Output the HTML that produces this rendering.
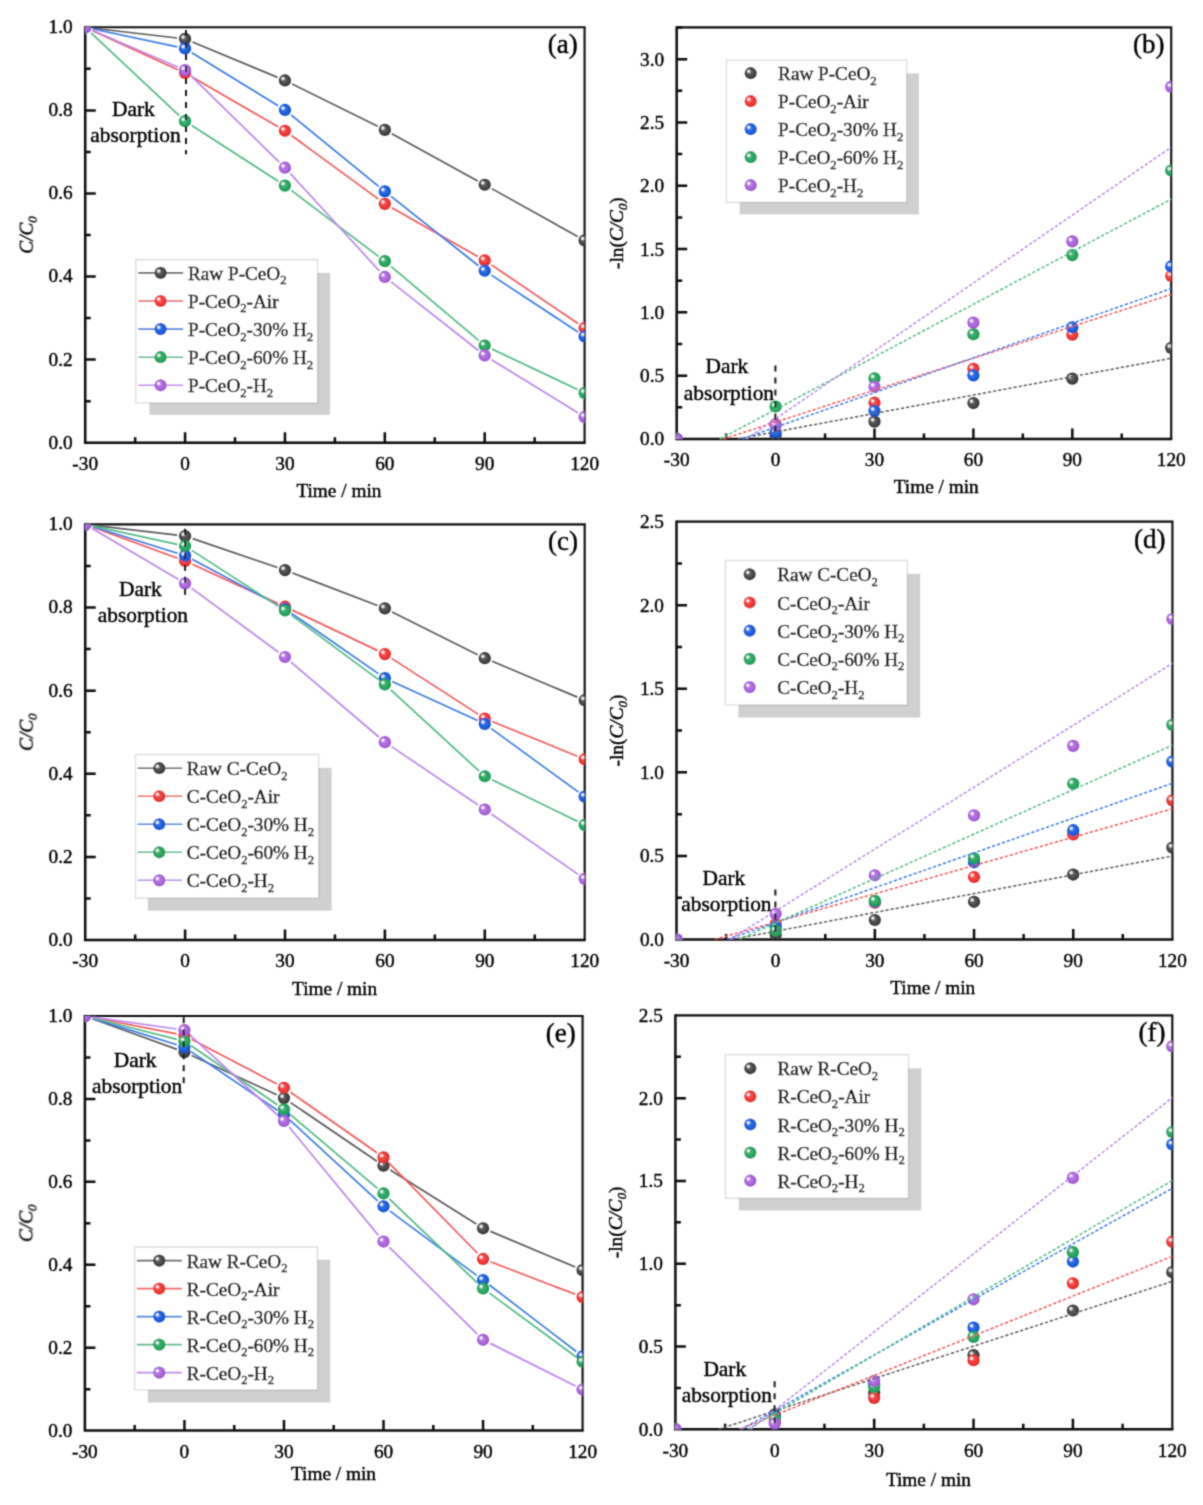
<!DOCTYPE html>
<html><head><meta charset="utf-8"><title>Figure</title>
<style>
html,body{margin:0;padding:0;background:#fff;}
svg{display:block;}

text{font-family:"Liberation Serif", serif;fill:#000;stroke:#000;stroke-width:0.4px;}
</style></head>
<body>
<svg width="1203" height="1505" viewBox="0 0 1203 1505">
<defs><radialGradient id="grk" cx="0.5" cy="0.5" r="0.5" fx="0.33" fy="0.36"><stop offset="0" stop-color="#9c9c9c"/><stop offset="0.3" stop-color="#616161"/><stop offset="0.62" stop-color="#4b4b4b"/><stop offset="1" stop-color="#333333"/></radialGradient><g id="mk"><circle r="6.1" fill="url(#grk)"/><circle cx="-2.0" cy="-1.9" r="2.4" fill="url(#hl)"/></g><radialGradient id="grr" cx="0.5" cy="0.5" r="0.5" fx="0.33" fy="0.36"><stop offset="0" stop-color="#f99393"/><stop offset="0.3" stop-color="#f55252"/><stop offset="0.62" stop-color="#f43a3a"/><stop offset="1" stop-color="#d92a2a"/></radialGradient><g id="mr"><circle r="6.1" fill="url(#grr)"/><circle cx="-2.0" cy="-1.9" r="2.4" fill="url(#hl)"/></g><radialGradient id="grb" cx="0.5" cy="0.5" r="0.5" fx="0.33" fy="0.36"><stop offset="0" stop-color="#83a8ef"/><stop offset="0.3" stop-color="#3874e5"/><stop offset="0.62" stop-color="#1d61e2"/><stop offset="1" stop-color="#1450c8"/></radialGradient><g id="mb"><circle r="6.1" fill="url(#grb)"/><circle cx="-2.0" cy="-1.9" r="2.4" fill="url(#hl)"/></g><radialGradient id="grg" cx="0.5" cy="0.5" r="0.5" fx="0.33" fy="0.36"><stop offset="0" stop-color="#8acfa9"/><stop offset="0.3" stop-color="#44b275"/><stop offset="0.62" stop-color="#2aa862"/><stop offset="1" stop-color="#1f9654"/></radialGradient><g id="mg"><circle r="6.1" fill="url(#grg)"/><circle cx="-2.0" cy="-1.9" r="2.4" fill="url(#hl)"/></g><radialGradient id="grp" cx="0.5" cy="0.5" r="0.5" fx="0.33" fy="0.36"><stop offset="0" stop-color="#d2aced"/><stop offset="0.3" stop-color="#b77ae2"/><stop offset="0.62" stop-color="#ad68de"/><stop offset="1" stop-color="#9a55cc"/></radialGradient><g id="mp"><circle r="6.1" fill="url(#grp)"/><circle cx="-2.0" cy="-1.9" r="2.4" fill="url(#hl)"/></g><radialGradient id="hl"><stop offset="0" stop-color="#fff" stop-opacity="0.97"/><stop offset="0.4" stop-color="#fff" stop-opacity="0.8"/><stop offset="1" stop-color="#fff" stop-opacity="0"/></radialGradient></defs>
<filter id="soft" x="0" y="0" width="1203" height="1505" filterUnits="userSpaceOnUse"><feConvolveMatrix order="3" kernelMatrix="0.03240 0.11520 0.03240 0.11520 0.40960 0.11520 0.03240 0.11520 0.03240" edgeMode="none"/></filter>
<rect width="1203" height="1505" fill="#fff"/>
<g filter="url(#soft)">
<g id="panel_a">
<clipPath id="clip_a"><rect x="85.2" y="27.3" width="499.4" height="415.4"/></clipPath>
<rect x="149.3" y="272.9" width="180.8" height="141.9" fill="#d0d0d0"/>
<rect x="135.8" y="259.6" width="181.8" height="143.4" fill="#fff" stroke="#000" stroke-opacity="0.13" stroke-width="1.6"/>
<line x1="138.3" y1="272.9" x2="183.1" y2="272.9" stroke="#5c5c5c" stroke-width="1.6"/>
<use href="#mk" x="160.6" y="272.9"/>
<text x="188" y="279.9" font-size="19.2">Raw P-CeO<tspan font-size="12.67" dy="4.4">2</tspan></text>
<line x1="138.3" y1="301" x2="183.1" y2="301" stroke="#f25a5a" stroke-width="1.6"/>
<use href="#mr" x="160.6" y="301"/>
<text x="188" y="308" font-size="19.2">P-CeO<tspan font-size="12.67" dy="4.4">2</tspan><tspan dy="-4.4">-Air</tspan></text>
<line x1="138.3" y1="329.1" x2="183.1" y2="329.1" stroke="#3d7be6" stroke-width="1.6"/>
<use href="#mb" x="160.6" y="329.1"/>
<text x="188" y="336.1" font-size="19.2">P-CeO<tspan font-size="12.67" dy="4.4">2</tspan><tspan dy="-4.4">-30% H<tspan font-size="12.67" dy="4.4">2</tspan></tspan></text>
<line x1="138.3" y1="357.2" x2="183.1" y2="357.2" stroke="#52b985" stroke-width="1.6"/>
<use href="#mg" x="160.6" y="357.2"/>
<text x="188" y="364.2" font-size="19.2">P-CeO<tspan font-size="12.67" dy="4.4">2</tspan><tspan dy="-4.4">-60% H<tspan font-size="12.67" dy="4.4">2</tspan></tspan></text>
<line x1="138.3" y1="385.3" x2="183.1" y2="385.3" stroke="#bb88ea" stroke-width="1.6"/>
<use href="#mp" x="160.6" y="385.3"/>
<text x="188" y="392.3" font-size="19.2">P-CeO<tspan font-size="12.67" dy="4.4">2</tspan><tspan dy="-4.4">-H<tspan font-size="12.67" dy="4.4">2</tspan></tspan></text>
<path d="M85.2 27.3H584.6V442.7" fill="none" stroke="#0c0c0c" stroke-width="2.1"/>
<path d="M85.2 26.25V442.7H585.65" fill="none" stroke="#0c0c0c" stroke-width="2.5" stroke-linecap="butt"/>
<path d="M135.14 442.7V437.2M185.08 442.7V432.2M235.02 442.7V437.2M284.96 442.7V432.2M334.9 442.7V437.2M384.84 442.7V432.2M434.78 442.7V437.2M484.72 442.7V432.2M534.66 442.7V437.2M85.2 401.16H90.7M85.2 359.62H95.7M85.2 318.08H90.7M85.2 276.54H95.7M85.2 235H90.7M85.2 193.46H95.7M85.2 151.92H90.7M85.2 110.38H95.7M85.2 68.84H90.7" stroke="#0c0c0c" stroke-width="2.5" fill="none"/>
<g clip-path="url(#clip_a)">
<path d="M93.15 28.23L177.13 38.01M192.47 42L277.57 77.4M292.13 84.02L377.67 126.36M391.85 133.75L477.71 180.89M491.71 188.63L577.61 236.51" stroke="#5c5c5c" stroke-width="1.7" fill="none"/>
<use href="#mk" x="85.2" y="27.3"/>
<use href="#mk" x="185.08" y="38.93"/>
<use href="#mk" x="284.96" y="80.47"/>
<use href="#mk" x="384.84" y="129.9"/>
<use href="#mk" x="484.72" y="184.74"/>
<use href="#mk" x="584.6" y="240.4"/>
<path d="M92.47 30.63L177.81 69.67M192.01 77L278.03 126.73M291.42 135.46L378.38 199.12M391.8 207.78L477.76 256.4M491.34 264.83L577.98 323.56" stroke="#f25a5a" stroke-width="1.7" fill="none"/>
<use href="#mr" x="85.2" y="27.3"/>
<use href="#mr" x="185.08" y="72.99"/>
<use href="#mr" x="284.96" y="130.73"/>
<use href="#mr" x="384.84" y="203.85"/>
<use href="#mr" x="484.72" y="260.34"/>
<use href="#mr" x="584.6" y="328.05"/>
<path d="M93.03 28.96L177.25 46.83M191.89 52.68L278.15 105.77M291.16 115.02L378.64 186.33M391.1 196.36L478.46 265.75M491.41 275.12L577.91 331.96" stroke="#3d7be6" stroke-width="1.7" fill="none"/>
<use href="#mb" x="85.2" y="27.3"/>
<use href="#mb" x="185.08" y="48.49"/>
<use href="#mb" x="284.96" y="109.96"/>
<use href="#mb" x="384.84" y="191.38"/>
<use href="#mb" x="484.72" y="270.72"/>
<use href="#mb" x="584.6" y="336.36"/>
<path d="M91.03 32.78L179.25 115.7M191.8 125.51L278.24 181.23M291.34 190.4L378.46 256.34M390.95 266.33L478.61 340.34M491.95 348.92L577.37 389.42" stroke="#52b985" stroke-width="1.7" fill="none"/>
<use href="#mg" x="85.2" y="27.3"/>
<use href="#mg" x="185.08" y="121.18"/>
<use href="#mg" x="284.96" y="185.57"/>
<use href="#mg" x="384.84" y="261.17"/>
<use href="#mg" x="484.72" y="345.5"/>
<use href="#mg" x="584.6" y="392.85"/>
<path d="M92.55 30.45L177.73 66.94M190.8 75.68L279.24 162.11M290.36 173.61L379.44 271.05M391.13 281.9L478.43 350.52M491.53 359.66L577.79 412.75" stroke="#bb88ea" stroke-width="1.7" fill="none"/>
<use href="#mp" x="85.2" y="27.3"/>
<use href="#mp" x="185.08" y="70.09"/>
<use href="#mp" x="284.96" y="167.71"/>
<use href="#mp" x="384.84" y="276.96"/>
<use href="#mp" x="484.72" y="355.47"/>
<use href="#mp" x="584.6" y="416.95"/>
</g>
<line x1="186" y1="27.5" x2="186" y2="154.2" stroke="#1a1a1a" stroke-width="2" stroke-dasharray="6 6" stroke-dashoffset="-2.4"/>
<text x="133.4" y="115.5" font-size="21.4" text-anchor="middle">Dark</text>
<text x="135.5" y="142.1" font-size="21.4" text-anchor="middle">absorption</text>
<text x="85.2" y="470.1" font-size="19.3" text-anchor="middle">-30</text>
<text x="185.08" y="470.1" font-size="19.3" text-anchor="middle">0</text>
<text x="284.96" y="470.1" font-size="19.3" text-anchor="middle">30</text>
<text x="384.84" y="470.1" font-size="19.3" text-anchor="middle">60</text>
<text x="484.72" y="470.1" font-size="19.3" text-anchor="middle">90</text>
<text x="584.6" y="470.1" font-size="19.3" text-anchor="middle">120</text>
<text x="72.7" y="448.6" font-size="19.3" text-anchor="end">0.0</text>
<text x="72.7" y="365.52" font-size="19.3" text-anchor="end">0.2</text>
<text x="72.7" y="282.44" font-size="19.3" text-anchor="end">0.4</text>
<text x="72.7" y="199.36" font-size="19.3" text-anchor="end">0.6</text>
<text x="72.7" y="116.28" font-size="19.3" text-anchor="end">0.8</text>
<text x="72.7" y="33.2" font-size="19.3" text-anchor="end">1.0</text>
<text x="338.9" y="497.4" font-size="19.3" text-anchor="middle">Time / min</text>
<text transform="translate(32.7 235) rotate(-90)" font-size="19.3" text-anchor="middle" font-style="italic">C/C<tspan font-size="12.74" dy="4.25">0</tspan></text>
<text x="577.8" y="53.2" font-size="27" text-anchor="end">(a)</text>
</g>
<g id="panel_b">
<clipPath id="clip_b"><rect x="676.7" y="27.4" width="494.5" height="411.55"/></clipPath>
<rect x="739.7" y="73.4" width="179.2" height="141" fill="#d0d0d0"/>
<rect x="726.3" y="60.1" width="180.4" height="142.3" fill="#fff" stroke="#000" stroke-opacity="0.13" stroke-width="1.6"/>
<use href="#mk" x="750.7" y="73.2"/>
<text x="778.1" y="80.2" font-size="19.2">Raw P-CeO<tspan font-size="12.67" dy="4.4">2</tspan></text>
<use href="#mr" x="750.7" y="101.2"/>
<text x="778.1" y="108.2" font-size="19.2">P-CeO<tspan font-size="12.67" dy="4.4">2</tspan><tspan dy="-4.4">-Air</tspan></text>
<use href="#mb" x="750.7" y="129.2"/>
<text x="778.1" y="136.2" font-size="19.2">P-CeO<tspan font-size="12.67" dy="4.4">2</tspan><tspan dy="-4.4">-30% H<tspan font-size="12.67" dy="4.4">2</tspan></tspan></text>
<use href="#mg" x="750.7" y="157.2"/>
<text x="778.1" y="164.2" font-size="19.2">P-CeO<tspan font-size="12.67" dy="4.4">2</tspan><tspan dy="-4.4">-60% H<tspan font-size="12.67" dy="4.4">2</tspan></tspan></text>
<use href="#mp" x="750.7" y="185.2"/>
<text x="778.1" y="192.2" font-size="19.2">P-CeO<tspan font-size="12.67" dy="4.4">2</tspan><tspan dy="-4.4">-H<tspan font-size="12.67" dy="4.4">2</tspan></tspan></text>
<path d="M676.7 27.4H1171.2V438.95" fill="none" stroke="#0c0c0c" stroke-width="2.1"/>
<path d="M676.7 26.35V438.95H1172.25" fill="none" stroke="#0c0c0c" stroke-width="2.5" stroke-linecap="butt"/>
<path d="M726.15 438.95V433.45M775.6 438.95V428.45M825.05 438.95V433.45M874.5 438.95V428.45M923.95 438.95V433.45M973.4 438.95V428.45M1022.85 438.95V433.45M1072.3 438.95V428.45M1121.75 438.95V433.45M676.7 407.3H682.2M676.7 375.65H687.2M676.7 344H682.2M676.7 312.35H687.2M676.7 280.7H682.2M676.7 249.05H687.2M676.7 217.4H682.2M676.7 185.75H687.2M676.7 154.1H682.2M676.7 122.45H687.2M676.7 90.8H682.2M676.7 59.15H687.2M676.7 27.5H682.2" stroke="#0c0c0c" stroke-width="2.5" fill="none"/>
<g clip-path="url(#clip_b)">
<use href="#mk" x="676.7" y="438.95"/>
<use href="#mk" x="775.6" y="435.35"/>
<use href="#mk" x="874.5" y="421.61"/>
<use href="#mk" x="973.4" y="403.03"/>
<use href="#mk" x="1072.3" y="378.63"/>
<use href="#mk" x="1171.2" y="347.86"/>
<use href="#mr" x="676.7" y="438.95"/>
<use href="#mr" x="775.6" y="424.2"/>
<use href="#mr" x="874.5" y="402.7"/>
<use href="#mr" x="973.4" y="368.89"/>
<use href="#mr" x="1072.3" y="334.73"/>
<use href="#mr" x="1171.2" y="275.97"/>
<use href="#mb" x="676.7" y="438.95"/>
<use href="#mb" x="775.6" y="432.32"/>
<use href="#mb" x="874.5" y="410.86"/>
<use href="#mb" x="973.4" y="375.33"/>
<use href="#mb" x="1072.3" y="327.3"/>
<use href="#mb" x="1171.2" y="266.45"/>
<use href="#mg" x="676.7" y="438.95"/>
<use href="#mg" x="775.6" y="406.52"/>
<use href="#mg" x="874.5" y="378.23"/>
<use href="#mg" x="973.4" y="334.15"/>
<use href="#mg" x="1072.3" y="255.07"/>
<use href="#mg" x="1171.2" y="170.52"/>
<use href="#mp" x="676.7" y="438.95"/>
<use href="#mp" x="775.6" y="425.19"/>
<use href="#mp" x="874.5" y="386.73"/>
<use href="#mp" x="973.4" y="322.63"/>
<use href="#mp" x="1072.3" y="241.37"/>
<use href="#mp" x="1171.2" y="86.92"/>
<line x1="737.44" y1="438.95" x2="1171.2" y2="358.23" stroke="#5c5c5c" stroke-width="1.5" stroke-dasharray="3.2 2"/>
<line x1="723.44" y1="438.95" x2="1171.2" y2="294.44" stroke="#f25a5a" stroke-width="1.5" stroke-dasharray="3.2 2"/>
<line x1="742.05" y1="438.95" x2="1171.2" y2="288.55" stroke="#3d7be6" stroke-width="1.5" stroke-dasharray="3.2 2"/>
<line x1="720.13" y1="438.95" x2="1171.2" y2="199.11" stroke="#52b985" stroke-width="1.5" stroke-dasharray="3.2 2"/>
<line x1="746.21" y1="438.95" x2="1171.2" y2="147.27" stroke="#bb88ea" stroke-width="1.5" stroke-dasharray="3.2 2"/>
</g>
<line x1="775.4" y1="365.5" x2="775.4" y2="438.9" stroke="#1a1a1a" stroke-width="2" stroke-dasharray="6 6" stroke-dashoffset="0"/>
<text x="726.9" y="373.4" font-size="21.4" text-anchor="middle">Dark</text>
<text x="728.9" y="399.9" font-size="21.4" text-anchor="middle">absorption</text>
<text x="676.7" y="466.35" font-size="19.3" text-anchor="middle">-30</text>
<text x="775.6" y="466.35" font-size="19.3" text-anchor="middle">0</text>
<text x="874.5" y="466.35" font-size="19.3" text-anchor="middle">30</text>
<text x="973.4" y="466.35" font-size="19.3" text-anchor="middle">60</text>
<text x="1072.3" y="466.35" font-size="19.3" text-anchor="middle">90</text>
<text x="1171.2" y="466.35" font-size="19.3" text-anchor="middle">120</text>
<text x="664.2" y="445.45" font-size="19.3" text-anchor="end">0.0</text>
<text x="664.2" y="382.15" font-size="19.3" text-anchor="end">0.5</text>
<text x="664.2" y="318.85" font-size="19.3" text-anchor="end">1.0</text>
<text x="664.2" y="255.55" font-size="19.3" text-anchor="end">1.5</text>
<text x="664.2" y="192.25" font-size="19.3" text-anchor="end">2.0</text>
<text x="664.2" y="128.95" font-size="19.3" text-anchor="end">2.5</text>
<text x="664.2" y="65.65" font-size="19.3" text-anchor="end">3.0</text>
<text x="936.2" y="493" font-size="19.3" text-anchor="middle">Time / min</text>
<text transform="translate(623.2 233.17) rotate(-90)" font-size="19.3" text-anchor="middle">-ln(<tspan font-style="italic">C/C<tspan font-size="12.74" dy="4.25">0</tspan></tspan><tspan dy="-4.25">)</tspan></text>
<text x="1164.4" y="53.3" font-size="27" text-anchor="end">(b)</text>
</g>
<g id="panel_c">
<clipPath id="clip_c"><rect x="85.2" y="524.4" width="499.5" height="415.6"/></clipPath>
<rect x="147.8" y="767.9" width="183.8" height="142.8" fill="#d0d0d0"/>
<rect x="135.5" y="754.5" width="183.3" height="143.7" fill="#fff" stroke="#000" stroke-opacity="0.13" stroke-width="1.6"/>
<line x1="137.7" y1="768.2" x2="182.2" y2="768.2" stroke="#5c5c5c" stroke-width="1.6"/>
<use href="#mk" x="159.3" y="768.2"/>
<text x="186.8" y="775.2" font-size="19.2">Raw C-CeO<tspan font-size="12.67" dy="4.4">2</tspan></text>
<line x1="137.7" y1="796.23" x2="182.2" y2="796.23" stroke="#f25a5a" stroke-width="1.6"/>
<use href="#mr" x="159.3" y="796.23"/>
<text x="186.8" y="803.23" font-size="19.2">C-CeO<tspan font-size="12.67" dy="4.4">2</tspan><tspan dy="-4.4">-Air</tspan></text>
<line x1="137.7" y1="824.26" x2="182.2" y2="824.26" stroke="#3d7be6" stroke-width="1.6"/>
<use href="#mb" x="159.3" y="824.26"/>
<text x="186.8" y="831.26" font-size="19.2">C-CeO<tspan font-size="12.67" dy="4.4">2</tspan><tspan dy="-4.4">-30% H<tspan font-size="12.67" dy="4.4">2</tspan></tspan></text>
<line x1="137.7" y1="852.29" x2="182.2" y2="852.29" stroke="#52b985" stroke-width="1.6"/>
<use href="#mg" x="159.3" y="852.29"/>
<text x="186.8" y="859.29" font-size="19.2">C-CeO<tspan font-size="12.67" dy="4.4">2</tspan><tspan dy="-4.4">-60% H<tspan font-size="12.67" dy="4.4">2</tspan></tspan></text>
<line x1="137.7" y1="880.32" x2="182.2" y2="880.32" stroke="#bb88ea" stroke-width="1.6"/>
<use href="#mp" x="159.3" y="880.32"/>
<text x="186.8" y="887.32" font-size="19.2">C-CeO<tspan font-size="12.67" dy="4.4">2</tspan><tspan dy="-4.4">-H<tspan font-size="12.67" dy="4.4">2</tspan></tspan></text>
<path d="M85.2 524.4H584.7V940" fill="none" stroke="#0c0c0c" stroke-width="2.1"/>
<path d="M85.2 523.35V940H585.75" fill="none" stroke="#0c0c0c" stroke-width="2.5" stroke-linecap="butt"/>
<path d="M135.15 940V934.5M185.1 940V929.5M235.05 940V934.5M285 940V929.5M334.95 940V934.5M384.9 940V929.5M434.85 940V934.5M484.8 940V929.5M534.75 940V934.5M85.2 898.44H90.7M85.2 856.88H95.7M85.2 815.32H90.7M85.2 773.76H95.7M85.2 732.2H90.7M85.2 690.64H95.7M85.2 649.08H90.7M85.2 607.52H95.7M85.2 565.96H90.7" stroke="#0c0c0c" stroke-width="2.5" fill="none"/>
<g clip-path="url(#clip_c)">
<path d="M93.15 525.33L177.15 535.11M192.67 538.62L277.43 567.53M292.47 572.98L377.43 605.49M392.06 611.92L477.64 654.65M492.18 661.32L577.32 697.1" stroke="#5c5c5c" stroke-width="1.7" fill="none"/>
<use href="#mk" x="85.2" y="524.4"/>
<use href="#mk" x="185.1" y="536.04"/>
<use href="#mk" x="285" y="570.12"/>
<use href="#mk" x="384.9" y="608.35"/>
<use href="#mk" x="484.8" y="658.22"/>
<use href="#mk" x="584.7" y="700.2"/>
<path d="M92.71 527.15L177.59 558.22M192.37 564.3L277.73 603.36M292.23 610.12L377.67 650.64M391.62 658.4L478.08 714.15M492.21 721.51L577.29 756.19" stroke="#f25a5a" stroke-width="1.7" fill="none"/>
<use href="#mr" x="85.2" y="524.4"/>
<use href="#mr" x="185.1" y="560.97"/>
<use href="#mr" x="285" y="606.69"/>
<use href="#mr" x="384.9" y="654.07"/>
<use href="#mr" x="484.8" y="718.49"/>
<use href="#mr" x="584.7" y="759.21"/>
<path d="M92.84 526.78L177.46 553.19M192.16 559.33L277.94 605.01M291.57 613.33L378.33 673.61M392.17 681.5L477.53 720.56M491.27 728.6L578.23 791.91" stroke="#3d7be6" stroke-width="1.7" fill="none"/>
<use href="#mb" x="85.2" y="524.4"/>
<use href="#mb" x="185.1" y="555.57"/>
<use href="#mb" x="285" y="608.77"/>
<use href="#mb" x="384.9" y="678.17"/>
<use href="#mb" x="484.8" y="723.89"/>
<use href="#mb" x="584.7" y="796.62"/>
<path d="M93.02 526.09L177.28 544.32M191.82 550.35L278.28 606.09M291.43 615.19L378.47 679.65M390.79 689.82L478.91 770.84M491.99 779.75L577.51 821.38" stroke="#52b985" stroke-width="1.7" fill="none"/>
<use href="#mg" x="85.2" y="524.4"/>
<use href="#mg" x="185.1" y="546.01"/>
<use href="#mg" x="285" y="610.43"/>
<use href="#mg" x="384.9" y="684.41"/>
<use href="#mg" x="484.8" y="776.25"/>
<use href="#mg" x="584.7" y="824.88"/>
<path d="M92.09 528.47L178.21 579.35M191.54 588.16L278.56 652.23M291.09 662.17L378.81 736.98M391.53 746.65L478.17 805.03M491.37 814.07L578.13 874.34" stroke="#bb88ea" stroke-width="1.7" fill="none"/>
<use href="#mp" x="85.2" y="524.4"/>
<use href="#mp" x="185.1" y="583.42"/>
<use href="#mp" x="285" y="656.98"/>
<use href="#mp" x="384.9" y="742.17"/>
<use href="#mp" x="484.8" y="809.5"/>
<use href="#mp" x="584.7" y="878.91"/>
</g>
<line x1="185.1" y1="527" x2="185.1" y2="595.2" stroke="#1a1a1a" stroke-width="2" stroke-dasharray="6 6" stroke-dashoffset="-1.8"/>
<text x="140.4" y="595.8" font-size="21.4" text-anchor="middle">Dark</text>
<text x="142.9" y="622.2" font-size="21.4" text-anchor="middle">absorption</text>
<text x="85.2" y="967.4" font-size="19.3" text-anchor="middle">-30</text>
<text x="185.1" y="967.4" font-size="19.3" text-anchor="middle">0</text>
<text x="285" y="967.4" font-size="19.3" text-anchor="middle">30</text>
<text x="384.9" y="967.4" font-size="19.3" text-anchor="middle">60</text>
<text x="484.8" y="967.4" font-size="19.3" text-anchor="middle">90</text>
<text x="584.7" y="967.4" font-size="19.3" text-anchor="middle">120</text>
<text x="72.7" y="945.9" font-size="19.3" text-anchor="end">0.0</text>
<text x="72.7" y="862.78" font-size="19.3" text-anchor="end">0.2</text>
<text x="72.7" y="779.66" font-size="19.3" text-anchor="end">0.4</text>
<text x="72.7" y="696.54" font-size="19.3" text-anchor="end">0.6</text>
<text x="72.7" y="613.42" font-size="19.3" text-anchor="end">0.8</text>
<text x="72.7" y="530.3" font-size="19.3" text-anchor="end">1.0</text>
<text x="334.6" y="995" font-size="19.3" text-anchor="middle">Time / min</text>
<text transform="translate(32.7 732.2) rotate(-90)" font-size="19.3" text-anchor="middle" font-style="italic">C/C<tspan font-size="12.74" dy="4.25">0</tspan></text>
<text x="577.9" y="550.3" font-size="27" text-anchor="end">(c)</text>
</g>
<g id="panel_d">
<clipPath id="clip_d"><rect x="676.5" y="521.6" width="495.9" height="417.9"/></clipPath>
<rect x="738.4" y="573.8" width="181.8" height="143.7" fill="#d0d0d0"/>
<rect x="725.4" y="560.4" width="182" height="144.6" fill="#fff" stroke="#000" stroke-opacity="0.13" stroke-width="1.6"/>
<use href="#mk" x="749.7" y="574.3"/>
<text x="777.2" y="581.3" font-size="19.2">Raw C-CeO<tspan font-size="12.67" dy="4.4">2</tspan></text>
<use href="#mr" x="749.7" y="602.5"/>
<text x="777.2" y="609.5" font-size="19.2">C-CeO<tspan font-size="12.67" dy="4.4">2</tspan><tspan dy="-4.4">-Air</tspan></text>
<use href="#mb" x="749.7" y="630.7"/>
<text x="777.2" y="637.7" font-size="19.2">C-CeO<tspan font-size="12.67" dy="4.4">2</tspan><tspan dy="-4.4">-30% H<tspan font-size="12.67" dy="4.4">2</tspan></tspan></text>
<use href="#mg" x="749.7" y="658.9"/>
<text x="777.2" y="665.9" font-size="19.2">C-CeO<tspan font-size="12.67" dy="4.4">2</tspan><tspan dy="-4.4">-60% H<tspan font-size="12.67" dy="4.4">2</tspan></tspan></text>
<use href="#mp" x="749.7" y="687.1"/>
<text x="777.2" y="694.1" font-size="19.2">C-CeO<tspan font-size="12.67" dy="4.4">2</tspan><tspan dy="-4.4">-H<tspan font-size="12.67" dy="4.4">2</tspan></tspan></text>
<path d="M676.5 521.6H1172.4V939.5" fill="none" stroke="#0c0c0c" stroke-width="2.1"/>
<path d="M676.5 520.55V939.5H1173.45" fill="none" stroke="#0c0c0c" stroke-width="2.5" stroke-linecap="butt"/>
<path d="M726.09 939.5V934M775.68 939.5V929M825.27 939.5V934M874.86 939.5V929M924.45 939.5V934M974.04 939.5V929M1023.63 939.5V934M1073.22 939.5V929M1122.81 939.5V934M676.5 897.71H682M676.5 855.92H687M676.5 814.13H682M676.5 772.34H687M676.5 730.55H682M676.5 688.76H687M676.5 646.97H682M676.5 605.18H687M676.5 563.39H682" stroke="#0c0c0c" stroke-width="2.5" fill="none"/>
<g clip-path="url(#clip_d)">
<use href="#mk" x="676.5" y="939.5"/>
<use href="#mk" x="775.68" y="934.75"/>
<use href="#mk" x="874.86" y="920.02"/>
<use href="#mk" x="974.04" y="901.78"/>
<use href="#mk" x="1073.22" y="874.54"/>
<use href="#mk" x="1172.4" y="847.58"/>
<use href="#mr" x="676.5" y="939.5"/>
<use href="#mr" x="775.68" y="924.1"/>
<use href="#mr" x="874.86" y="902.62"/>
<use href="#mr" x="974.04" y="876.99"/>
<use href="#mr" x="1073.22" y="834.32"/>
<use href="#mr" x="1172.4" y="800.35"/>
<use href="#mb" x="676.5" y="939.5"/>
<use href="#mb" x="775.68" y="926.47"/>
<use href="#mb" x="874.86" y="901.57"/>
<use href="#mb" x="974.04" y="862.27"/>
<use href="#mb" x="1073.22" y="830.19"/>
<use href="#mb" x="1172.4" y="761.61"/>
<use href="#mg" x="676.5" y="939.5"/>
<use href="#mg" x="775.68" y="930.57"/>
<use href="#mg" x="874.86" y="900.73"/>
<use href="#mg" x="974.04" y="858.24"/>
<use href="#mg" x="1073.22" y="783.81"/>
<use href="#mg" x="1172.4" y="724.91"/>
<use href="#mp" x="676.5" y="939.5"/>
<use href="#mp" x="775.68" y="913.9"/>
<use href="#mp" x="874.86" y="875.28"/>
<use href="#mp" x="974.04" y="815.41"/>
<use href="#mp" x="1073.22" y="745.87"/>
<use href="#mp" x="1172.4" y="619"/>
<line x1="732.19" y1="939.5" x2="1172.4" y2="855.99" stroke="#5c5c5c" stroke-width="1.5" stroke-dasharray="3.2 2"/>
<line x1="714.73" y1="939.5" x2="1172.4" y2="808.88" stroke="#f25a5a" stroke-width="1.5" stroke-dasharray="3.2 2"/>
<line x1="727.07" y1="939.5" x2="1172.4" y2="783.29" stroke="#3d7be6" stroke-width="1.5" stroke-dasharray="3.2 2"/>
<line x1="738.79" y1="939.5" x2="1172.4" y2="745.17" stroke="#52b985" stroke-width="1.5" stroke-dasharray="3.2 2"/>
<line x1="730.03" y1="939.5" x2="1172.4" y2="663.41" stroke="#bb88ea" stroke-width="1.5" stroke-dasharray="3.2 2"/>
</g>
<line x1="775.4" y1="889.6" x2="775.4" y2="939.5" stroke="#1a1a1a" stroke-width="2" stroke-dasharray="6 6" stroke-dashoffset="0"/>
<text x="723.9" y="884.6" font-size="21.4" text-anchor="middle">Dark</text>
<text x="726.4" y="910.7" font-size="21.4" text-anchor="middle">absorption</text>
<text x="676.5" y="966.9" font-size="19.3" text-anchor="middle">-30</text>
<text x="775.68" y="966.9" font-size="19.3" text-anchor="middle">0</text>
<text x="874.86" y="966.9" font-size="19.3" text-anchor="middle">30</text>
<text x="974.04" y="966.9" font-size="19.3" text-anchor="middle">60</text>
<text x="1073.22" y="966.9" font-size="19.3" text-anchor="middle">90</text>
<text x="1172.4" y="966.9" font-size="19.3" text-anchor="middle">120</text>
<text x="664" y="946" font-size="19.3" text-anchor="end">0.0</text>
<text x="664" y="862.42" font-size="19.3" text-anchor="end">0.5</text>
<text x="664" y="778.84" font-size="19.3" text-anchor="end">1.0</text>
<text x="664" y="695.26" font-size="19.3" text-anchor="end">1.5</text>
<text x="664" y="611.68" font-size="19.3" text-anchor="end">2.0</text>
<text x="664" y="528.1" font-size="19.3" text-anchor="end">2.5</text>
<text x="932.7" y="994.1" font-size="19.3" text-anchor="middle">Time / min</text>
<text transform="translate(623 730.55) rotate(-90)" font-size="19.3" text-anchor="middle">-ln(<tspan font-style="italic">C/C<tspan font-size="12.74" dy="4.25">0</tspan></tspan><tspan dy="-4.25">)</tspan></text>
<text x="1165.6" y="547.5" font-size="27" text-anchor="end">(d)</text>
</g>
<g id="panel_e">
<clipPath id="clip_e"><rect x="84.9" y="1016" width="497.7" height="414.6"/></clipPath>
<rect x="147.8" y="1259.7" width="182.5" height="142.8" fill="#d0d0d0"/>
<rect x="134.6" y="1246.9" width="182.9" height="143.1" fill="#fff" stroke="#000" stroke-opacity="0.13" stroke-width="1.6"/>
<line x1="136.8" y1="1260.6" x2="181.8" y2="1260.6" stroke="#5c5c5c" stroke-width="1.6"/>
<use href="#mk" x="159.3" y="1260.6"/>
<text x="186.8" y="1267.6" font-size="19.2">Raw R-CeO<tspan font-size="12.67" dy="4.4">2</tspan></text>
<line x1="136.8" y1="1288.6" x2="181.8" y2="1288.6" stroke="#f25a5a" stroke-width="1.6"/>
<use href="#mr" x="159.3" y="1288.6"/>
<text x="186.8" y="1295.6" font-size="19.2">R-CeO<tspan font-size="12.67" dy="4.4">2</tspan><tspan dy="-4.4">-Air</tspan></text>
<line x1="136.8" y1="1316.6" x2="181.8" y2="1316.6" stroke="#3d7be6" stroke-width="1.6"/>
<use href="#mb" x="159.3" y="1316.6"/>
<text x="186.8" y="1323.6" font-size="19.2">R-CeO<tspan font-size="12.67" dy="4.4">2</tspan><tspan dy="-4.4">-30% H<tspan font-size="12.67" dy="4.4">2</tspan></tspan></text>
<line x1="136.8" y1="1344.6" x2="181.8" y2="1344.6" stroke="#52b985" stroke-width="1.6"/>
<use href="#mg" x="159.3" y="1344.6"/>
<text x="186.8" y="1351.6" font-size="19.2">R-CeO<tspan font-size="12.67" dy="4.4">2</tspan><tspan dy="-4.4">-60% H<tspan font-size="12.67" dy="4.4">2</tspan></tspan></text>
<line x1="136.8" y1="1372.6" x2="181.8" y2="1372.6" stroke="#bb88ea" stroke-width="1.6"/>
<use href="#mp" x="159.3" y="1372.6"/>
<text x="186.8" y="1379.6" font-size="19.2">R-CeO<tspan font-size="12.67" dy="4.4">2</tspan><tspan dy="-4.4">-H<tspan font-size="12.67" dy="4.4">2</tspan></tspan></text>
<path d="M84.9 1016H582.6V1430.6" fill="none" stroke="#0c0c0c" stroke-width="2.1"/>
<path d="M84.9 1014.95V1430.6H583.65" fill="none" stroke="#0c0c0c" stroke-width="2.5" stroke-linecap="butt"/>
<path d="M134.67 1430.6V1425.1M184.44 1430.6V1420.1M234.21 1430.6V1425.1M283.98 1430.6V1420.1M333.75 1430.6V1425.1M383.52 1430.6V1420.1M433.29 1430.6V1425.1M483.06 1430.6V1420.1M532.83 1430.6V1425.1M84.9 1389.14H90.4M84.9 1347.68H95.4M84.9 1306.22H90.4M84.9 1264.76H95.4M84.9 1223.3H90.4M84.9 1181.84H95.4M84.9 1140.38H90.4M84.9 1098.92H95.4M84.9 1057.46H90.4" stroke="#0c0c0c" stroke-width="2.5" fill="none"/>
<g clip-path="url(#clip_e)">
<path d="M92.42 1018.73L176.92 1049.34M191.7 1055.43L276.72 1094.73M290.6 1102.58L376.9 1161.18M390.29 1169.93L476.29 1224.02M490.43 1231.38L575.23 1267.05" stroke="#5c5c5c" stroke-width="1.7" fill="none"/>
<use href="#mk" x="84.9" y="1016"/>
<use href="#mk" x="184.44" y="1052.07"/>
<use href="#mk" x="283.98" y="1098.09"/>
<use href="#mk" x="383.52" y="1165.67"/>
<use href="#mk" x="483.06" y="1228.28"/>
<use href="#mk" x="582.6" y="1270.15"/>
<path d="M92.75 1017.54L176.59 1033.95M191.52 1039.2L276.9 1084.01M290.53 1092.31L376.97 1152.79M389.12 1163.09L477.46 1253.24M490.53 1261.82L575.13 1294.24" stroke="#f25a5a" stroke-width="1.7" fill="none"/>
<use href="#mr" x="84.9" y="1016"/>
<use href="#mr" x="184.44" y="1035.49"/>
<use href="#mr" x="283.98" y="1087.73"/>
<use href="#mr" x="383.52" y="1157.38"/>
<use href="#mr" x="483.06" y="1258.96"/>
<use href="#mr" x="582.6" y="1297.1"/>
<path d="M92.54 1018.39L176.8 1044.71M191.06 1051.59L277.36 1110.18M289.87 1120.09L377.63 1200.88M389.95 1211.07L476.63 1275.34M489.41 1284.97L576.25 1351.52" stroke="#3d7be6" stroke-width="1.7" fill="none"/>
<use href="#mb" x="84.9" y="1016"/>
<use href="#mb" x="184.44" y="1047.1"/>
<use href="#mb" x="283.98" y="1114.67"/>
<use href="#mb" x="383.52" y="1206.3"/>
<use href="#mb" x="483.06" y="1280.1"/>
<use href="#mb" x="582.6" y="1356.39"/>
<path d="M92.65 1017.97L176.69 1039.32M191.05 1045.8L277.37 1104.77M290.09 1114.45L377.41 1188.28M389.31 1198.97L477.27 1282.87M489.5 1293.14L576.16 1357.03" stroke="#52b985" stroke-width="1.7" fill="none"/>
<use href="#mg" x="84.9" y="1016"/>
<use href="#mg" x="184.44" y="1041.29"/>
<use href="#mg" x="283.98" y="1109.28"/>
<use href="#mg" x="383.52" y="1193.45"/>
<use href="#mg" x="483.06" y="1288.39"/>
<use href="#mg" x="582.6" y="1361.78"/>
<path d="M92.82 1017.12L176.52 1028.97M190.35 1035.49L278.07 1115.5M289.07 1127.06L378.43 1235.37M389.21 1247.16L477.37 1334.18M490.22 1343.38L575.44 1385.98" stroke="#bb88ea" stroke-width="1.7" fill="none"/>
<use href="#mp" x="84.9" y="1016"/>
<use href="#mp" x="184.44" y="1030.1"/>
<use href="#mp" x="283.98" y="1120.89"/>
<use href="#mp" x="383.52" y="1241.54"/>
<use href="#mp" x="483.06" y="1339.8"/>
<use href="#mp" x="582.6" y="1389.55"/>
</g>
<line x1="183.7" y1="1016" x2="183.7" y2="1083.8" stroke="#1a1a1a" stroke-width="2" stroke-dasharray="6 6" stroke-dashoffset="-1.3"/>
<text x="135.1" y="1066.9" font-size="21.4" text-anchor="middle">Dark</text>
<text x="137.1" y="1092.8" font-size="21.4" text-anchor="middle">absorption</text>
<text x="84.9" y="1458" font-size="19.3" text-anchor="middle">-30</text>
<text x="184.44" y="1458" font-size="19.3" text-anchor="middle">0</text>
<text x="283.98" y="1458" font-size="19.3" text-anchor="middle">30</text>
<text x="383.52" y="1458" font-size="19.3" text-anchor="middle">60</text>
<text x="483.06" y="1458" font-size="19.3" text-anchor="middle">90</text>
<text x="582.6" y="1458" font-size="19.3" text-anchor="middle">120</text>
<text x="72.4" y="1436.5" font-size="19.3" text-anchor="end">0.0</text>
<text x="72.4" y="1353.58" font-size="19.3" text-anchor="end">0.2</text>
<text x="72.4" y="1270.66" font-size="19.3" text-anchor="end">0.4</text>
<text x="72.4" y="1187.74" font-size="19.3" text-anchor="end">0.6</text>
<text x="72.4" y="1104.82" font-size="19.3" text-anchor="end">0.8</text>
<text x="72.4" y="1021.9" font-size="19.3" text-anchor="end">1.0</text>
<text x="333.5" y="1479.8" font-size="19.3" text-anchor="middle">Time / min</text>
<text transform="translate(32.4 1223.3) rotate(-90)" font-size="19.3" text-anchor="middle" font-style="italic">C/C<tspan font-size="12.74" dy="4.25">0</tspan></text>
<text x="575.8" y="1041.9" font-size="27" text-anchor="end">(e)</text>
</g>
<g id="panel_f">
<clipPath id="clip_f"><rect x="675.4" y="1015.4" width="496.9" height="413.9"/></clipPath>
<rect x="738.8" y="1068.3" width="182.5" height="142.1" fill="#d0d0d0"/>
<rect x="725.4" y="1054.6" width="183.1" height="143.7" fill="#fff" stroke="#000" stroke-opacity="0.13" stroke-width="1.6"/>
<use href="#mk" x="750.3" y="1068.3"/>
<text x="777.5" y="1075.3" font-size="19.2">Raw R-CeO<tspan font-size="12.67" dy="4.4">2</tspan></text>
<use href="#mr" x="750.3" y="1096.4"/>
<text x="777.5" y="1103.4" font-size="19.2">R-CeO<tspan font-size="12.67" dy="4.4">2</tspan><tspan dy="-4.4">-Air</tspan></text>
<use href="#mb" x="750.3" y="1124.5"/>
<text x="777.5" y="1131.5" font-size="19.2">R-CeO<tspan font-size="12.67" dy="4.4">2</tspan><tspan dy="-4.4">-30% H<tspan font-size="12.67" dy="4.4">2</tspan></tspan></text>
<use href="#mg" x="750.3" y="1152.6"/>
<text x="777.5" y="1159.6" font-size="19.2">R-CeO<tspan font-size="12.67" dy="4.4">2</tspan><tspan dy="-4.4">-60% H<tspan font-size="12.67" dy="4.4">2</tspan></tspan></text>
<use href="#mp" x="750.3" y="1180.7"/>
<text x="777.5" y="1187.7" font-size="19.2">R-CeO<tspan font-size="12.67" dy="4.4">2</tspan><tspan dy="-4.4">-H<tspan font-size="12.67" dy="4.4">2</tspan></tspan></text>
<path d="M675.4 1015.4H1172.3V1429.3" fill="none" stroke="#0c0c0c" stroke-width="2.1"/>
<path d="M675.4 1014.35V1429.3H1173.35" fill="none" stroke="#0c0c0c" stroke-width="2.5" stroke-linecap="butt"/>
<path d="M725.09 1429.3V1423.8M774.78 1429.3V1418.8M824.47 1429.3V1423.8M874.16 1429.3V1418.8M923.85 1429.3V1423.8M973.54 1429.3V1418.8M1023.23 1429.3V1423.8M1072.92 1429.3V1418.8M1122.61 1429.3V1423.8M675.4 1387.91H680.9M675.4 1346.52H685.9M675.4 1305.13H680.9M675.4 1263.74H685.9M675.4 1222.35H680.9M675.4 1180.96H685.9M675.4 1139.57H680.9M675.4 1098.18H685.9M675.4 1056.79H680.9" stroke="#0c0c0c" stroke-width="2.5" fill="none"/>
<g clip-path="url(#clip_f)">
<use href="#mk" x="675.4" y="1429.3"/>
<use href="#mk" x="774.78" y="1414.23"/>
<use href="#mk" x="874.16" y="1392.77"/>
<use href="#mk" x="973.54" y="1355.15"/>
<use href="#mk" x="1072.92" y="1310.52"/>
<use href="#mk" x="1172.3" y="1272.13"/>
<use href="#mr" x="675.4" y="1429.3"/>
<use href="#mr" x="774.78" y="1421.33"/>
<use href="#mr" x="874.16" y="1397.85"/>
<use href="#mr" x="973.54" y="1360.26"/>
<use href="#mr" x="1072.92" y="1283.29"/>
<use href="#mr" x="1172.3" y="1241.69"/>
<use href="#mb" x="675.4" y="1429.3"/>
<use href="#mb" x="774.78" y="1416.39"/>
<use href="#mb" x="874.16" y="1384.3"/>
<use href="#mb" x="973.54" y="1327.59"/>
<use href="#mb" x="1072.92" y="1261.53"/>
<use href="#mb" x="1172.3" y="1144.48"/>
<use href="#mg" x="675.4" y="1429.3"/>
<use href="#mg" x="774.78" y="1418.88"/>
<use href="#mg" x="874.16" y="1387.1"/>
<use href="#mg" x="973.54" y="1336.82"/>
<use href="#mg" x="1072.92" y="1252.15"/>
<use href="#mg" x="1172.3" y="1131.99"/>
<use href="#mp" x="675.4" y="1429.3"/>
<use href="#mp" x="774.78" y="1423.57"/>
<use href="#mp" x="874.16" y="1381.01"/>
<use href="#mp" x="973.54" y="1299.29"/>
<use href="#mp" x="1072.92" y="1177.87"/>
<use href="#mp" x="1172.3" y="1046.42"/>
<line x1="718.61" y1="1429.3" x2="1172.3" y2="1281.31" stroke="#5c5c5c" stroke-width="1.5" stroke-dasharray="3.2 2"/>
<line x1="739.44" y1="1429.3" x2="1172.3" y2="1256.35" stroke="#f25a5a" stroke-width="1.5" stroke-dasharray="3.2 2"/>
<line x1="741.42" y1="1429.3" x2="1172.3" y2="1188.31" stroke="#3d7be6" stroke-width="1.5" stroke-dasharray="3.2 2"/>
<line x1="747.53" y1="1429.3" x2="1172.3" y2="1180.54" stroke="#52b985" stroke-width="1.5" stroke-dasharray="3.2 2"/>
<line x1="750.28" y1="1429.3" x2="1172.3" y2="1097.68" stroke="#bb88ea" stroke-width="1.5" stroke-dasharray="3.2 2"/>
</g>
<line x1="774.6" y1="1381.2" x2="774.6" y2="1429.3" stroke="#1a1a1a" stroke-width="2" stroke-dasharray="6 6" stroke-dashoffset="0"/>
<text x="724.8" y="1375.8" font-size="21.4" text-anchor="middle">Dark</text>
<text x="726.8" y="1402.4" font-size="21.4" text-anchor="middle">absorption</text>
<text x="675.4" y="1456.7" font-size="19.3" text-anchor="middle">-30</text>
<text x="774.78" y="1456.7" font-size="19.3" text-anchor="middle">0</text>
<text x="874.16" y="1456.7" font-size="19.3" text-anchor="middle">30</text>
<text x="973.54" y="1456.7" font-size="19.3" text-anchor="middle">60</text>
<text x="1072.92" y="1456.7" font-size="19.3" text-anchor="middle">90</text>
<text x="1172.3" y="1456.7" font-size="19.3" text-anchor="middle">120</text>
<text x="662.9" y="1435.8" font-size="19.3" text-anchor="end">0.0</text>
<text x="662.9" y="1353.02" font-size="19.3" text-anchor="end">0.5</text>
<text x="662.9" y="1270.24" font-size="19.3" text-anchor="end">1.0</text>
<text x="662.9" y="1187.46" font-size="19.3" text-anchor="end">1.5</text>
<text x="662.9" y="1104.68" font-size="19.3" text-anchor="end">2.0</text>
<text x="662.9" y="1021.9" font-size="19.3" text-anchor="end">2.5</text>
<text x="928.4" y="1486.2" font-size="19.3" text-anchor="middle">Time / min</text>
<text transform="translate(621.9 1222.35) rotate(-90)" font-size="19.3" text-anchor="middle">-ln(<tspan font-style="italic">C/C<tspan font-size="12.74" dy="4.25">0</tspan></tspan><tspan dy="-4.25">)</tspan></text>
<text x="1165.5" y="1041.3" font-size="27" text-anchor="end">(f)</text>
</g>
</g>
</svg>
</body></html>
